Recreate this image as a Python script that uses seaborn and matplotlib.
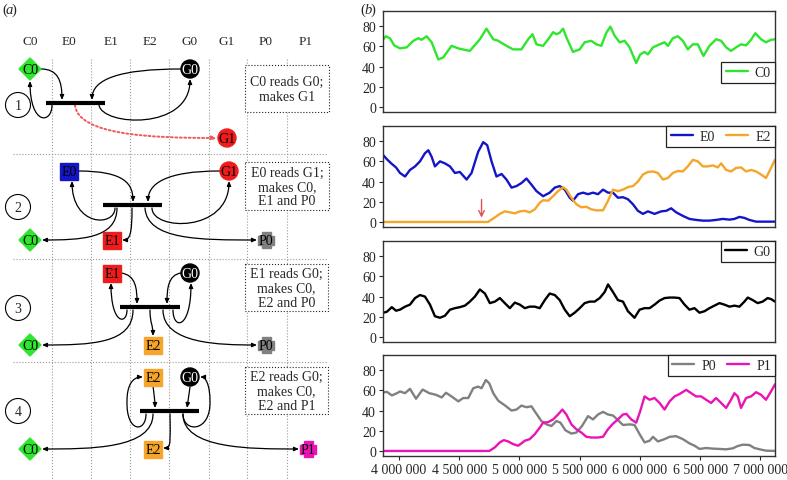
import matplotlib
matplotlib.use("Agg")
import numpy as np
import pandas as pd
import matplotlib.pyplot as plt
import seaborn as sns
from matplotlib.patches import Rectangle, Circle, Polygon, FancyArrowPatch
from matplotlib.path import Path
from matplotlib.ticker import FuncFormatter

# --- Data (b): species counts over time, (time in thousands, count) ---
C0 = [(3870, 67), (3890, 70), (3925, 68), (3960, 61), (4008, 58), (4064, 59), (4119, 65.5), (4160, 68),
      (4188, 66.5), (4229, 70), (4271, 64), (4326, 47), (4367, 49), (4436, 60.5), (4492, 58), (4547, 56.5),
      (4588, 55.5), (4671, 67), (4726, 77.5), (4782, 67), (4823, 65.5), (4892, 60.5), (4947, 57), (5016, 57),
      (5072, 67), (5108, 72), (5141, 62), (5196, 60.5), (5238, 67), (5279, 74), (5306, 72), (5334, 73.5),
      (5362, 77.5), (5389, 69), (5444, 54.5), (5500, 57), (5541, 64), (5596, 65.5), (5638, 62), (5679, 60.5),
      (5721, 73.5), (5754, 79.5), (5790, 70.5), (5831, 64), (5873, 65.5), (5914, 59), (5969, 43.5), (6002, 52),
      (6038, 54.5), (6066, 52), (6108, 59), (6163, 62), (6204, 64), (6232, 60.5), (6273, 68), (6315, 70),
      (6356, 65.5), (6397, 57), (6439, 62), (6480, 62), (6527, 50.5), (6577, 60.5), (6632, 67), (6674, 65.5),
      (6715, 59), (6756, 55.5), (6798, 59), (6839, 62), (6881, 61), (6922, 66.5), (6958, 73), (7005, 67),
      (7046, 64), (7088, 66.5), (7121, 67)]

E0 = [(3870, 66), (3900, 62), (3935, 58), (3975, 54), (4008, 48.5), (4050, 45), (4091, 51.5), (4133, 55),
      (4174, 60), (4215, 68), (4243, 71), (4271, 64.5), (4298, 55), (4340, 60), (4381, 58), (4423, 55),
      (4464, 48.5), (4505, 49.5), (4561, 42), (4602, 48.5), (4657, 69.5), (4699, 79), (4732, 76), (4768, 60),
      (4809, 45), (4851, 47.5), (4892, 42), (4934, 34), (4975, 35.5), (5016, 38.5), (5058, 43), (5099, 37),
      (5141, 30.5), (5196, 25.5), (5251, 29), (5293, 34), (5334, 35.5), (5376, 32), (5417, 24), (5444, 21),
      (5486, 27.5), (5527, 29), (5569, 27.5), (5610, 29), (5652, 27.5), (5693, 32), (5735, 29), (5776, 29),
      (5817, 24), (5859, 24.5), (5900, 22.5), (5942, 17.5), (5983, 11), (6025, 8), (6066, 10.5), (6121, 8),
      (6177, 10.5), (6218, 11), (6259, 13.5), (6301, 9.5), (6356, 6), (6411, 3), (6466, 2), (6522, 1.3),
      (6577, 1.3), (6632, 2), (6687, 3), (6743, 2.3), (6784, 3), (6826, 5), (6867, 4), (6908, 2),
      (6964, 0.3), (7019, 0.3), (7121, 0.3)]

E2 = [(3867, 0), (4740, 0), (4754, 1.3), (4796, 4.5), (4837, 8), (4878, 10.5), (4920, 9.5), (4961, 8.5),
      (5003, 10.5), (5044, 11), (5085, 9.5), (5127, 12.5), (5168, 19), (5196, 21.5), (5238, 21), (5279, 25.5),
      (5320, 30.5), (5362, 34.5), (5389, 32), (5431, 24), (5472, 17.5), (5514, 14.5), (5555, 15), (5596, 12.5),
      (5638, 11.5), (5693, 11.5), (5735, 21), (5776, 32), (5817, 30.5), (5859, 32), (5900, 34.5), (5942, 35.5),
      (5983, 40), (6025, 47), (6066, 49.5), (6108, 50), (6149, 48.5), (6190, 42), (6232, 43.5), (6273, 48.5),
      (6315, 50.5), (6356, 50), (6397, 55), (6439, 61.5), (6480, 60), (6522, 55), (6563, 55), (6605, 56),
      (6646, 54), (6674, 58), (6715, 51.5), (6756, 50), (6798, 53.5), (6839, 54), (6881, 50), (6922, 51.5),
      (6964, 50), (7005, 47), (7046, 43.5), (7088, 53.5), (7121, 61.5)]

G0 = [(3870, 24), (3900, 25), (3940, 29.5), (3975, 26), (4008, 27), (4050, 30), (4091, 32), (4133, 38.5),
      (4174, 41.5), (4215, 40), (4257, 32), (4298, 20.5), (4340, 19), (4381, 21), (4423, 27), (4464, 28.5),
      (4505, 29.5), (4547, 31), (4588, 35), (4630, 40), (4671, 47), (4713, 43), (4754, 33.5), (4796, 35),
      (4837, 38.5), (4878, 33.5), (4920, 28.5), (4961, 34), (5003, 32), (5044, 28.5), (5085, 30), (5127, 30),
      (5168, 28.5), (5210, 36.5), (5251, 43), (5293, 41.5), (5334, 36.5), (5376, 27), (5417, 20.5), (5458, 24),
      (5500, 28.5), (5541, 33.5), (5583, 35), (5624, 35), (5666, 38.5), (5707, 44.5), (5735, 52), (5776, 44.5),
      (5817, 36.5), (5859, 35), (5900, 25.5), (5955, 19), (5997, 27), (6038, 28.5), (6080, 28.5), (6121, 32),
      (6163, 36), (6204, 38.5), (6246, 39), (6287, 39), (6328, 38.5), (6370, 32), (6411, 27), (6453, 28.5),
      (6494, 24), (6536, 25.5), (6577, 28.5), (6618, 31), (6660, 33.5), (6701, 32), (6743, 30), (6784, 31),
      (6826, 30), (6867, 35), (6895, 39), (6936, 36.5), (6977, 33.5), (7019, 35), (7060, 38.5), (7088, 37.5),
      (7121, 35)]

P0 = [(3870, 58), (3900, 58.5), (3940, 55), (3980, 57), (4008, 58.9), (4050, 57.2), (4091, 61.5), (4141, 51.7),
      (4196, 60.8), (4251, 57.2), (4307, 55.6), (4354, 53), (4390, 57.6), (4436, 54), (4492, 49.1), (4533, 52.4),
      (4575, 52.4), (4616, 62.1), (4657, 63.7), (4685, 62.1), (4721, 70.2), (4749, 67), (4782, 57.2), (4823, 49.8),
      (4878, 45.2), (4934, 40), (4975, 41), (5016, 44.9), (5058, 43.3), (5099, 44.2), (5141, 36.7), (5182, 29.6),
      (5224, 26.3), (5265, 24.7), (5306, 29.6), (5340, 28), (5381, 20.5), (5431, 17.2), (5472, 18.2), (5519, 24.7),
      (5569, 34.5), (5610, 31.2), (5652, 36.1), (5693, 38.7), (5735, 36.1), (5776, 35.1), (5817, 30.6), (5859, 25.7),
      (5914, 26.3), (5955, 25.7), (5997, 16.6), (6038, 8.5), (6080, 10.1), (6108, 14), (6149, 9.4), (6204, 11.7),
      (6246, 14), (6301, 14.6), (6356, 11.7), (6411, 7.5), (6453, 5.2), (6494, 2), (6549, 2.9), (6605, 2.3),
      (6660, 2), (6715, 1.6), (6771, 2.6), (6812, 4.9), (6853, 6.2), (6908, 5.9), (6950, 2.9), (7005, 1.3),
      (7046, 0.3), (7121, 0)]

P1 = [(3867, 0), (4748, 0), (4754, 0.3), (4796, 3.6), (4837, 8.5), (4870, 10.7), (4906, 9.4), (4947, 6.8),
      (4989, 5.2), (5016, 7.5), (5044, 10.1), (5085, 11.7), (5127, 16.6), (5168, 23.1), (5196, 28), (5238, 28.6),
      (5279, 31.2), (5320, 36.1), (5356, 41), (5389, 36.1), (5431, 26.3), (5472, 21.5), (5514, 18.2), (5555, 14),
      (5596, 13.3), (5652, 13.3), (5693, 14), (5735, 21.5), (5776, 27), (5817, 31.2), (5859, 36.1), (5887, 36.7),
      (5928, 31.2), (5969, 28), (6002, 39.3), (6038, 54), (6080, 50.7), (6121, 52.4), (6163, 47.5), (6204, 41),
      (6246, 49.1), (6287, 54), (6328, 56.3), (6384, 60.5), (6425, 57.2), (6466, 54), (6508, 54), (6549, 50.7),
      (6591, 47.5), (6632, 52.4), (6674, 47.5), (6715, 42.6), (6756, 50.7), (6784, 57.2), (6812, 54), (6839, 42.6),
      (6881, 52.4), (6922, 54), (6964, 58.2), (7005, 55.6), (7046, 50.7), (7088, 58.9), (7121, 66)]

ARROW_TIME = 4685   # thousands, red arrow in E0/E2 panel
ARROW_FROM, ARROW_TO = 25, 1.5

PANELS = [[("C0", C0)], [("E0", E0), ("E2", E2)], [("G0", G0)], [("P0", P0), ("P1", P1)]]
COLORS = {"C0": "#2ee62e", "E0": "#1515c8", "E1": "#ee1c1c", "E2": "#f5a52a",
          "G0": "#000000", "G1": "#ee1c1c", "P0": "#808080", "P1": "#ea14b4"}

# --- Diagram (a) layout ---
COLUMNS = ["C0", "E0", "E1", "E2", "G0", "G1", "P0", "P1"]
COLUMN_X = [30, 69, 111, 150, 190, 227, 266, 306]
GRID_X = [52, 91, 130, 169, 209, 247, 287]
ROW_Y = [106, 208, 309, 412]
ROW_SEP_Y = [155, 260, 363]
RULES = ["C0 reads G0;\nmakes G1",
         "E0 reads G1;\nmakes C0,\nE1 and P0",
         "E1 reads G0;\nmakes C0,\nE2 and P0",
         "E2 reads G0;\nmakes C0,\nE2 and P1"]
RULE_BOX = [(245, 66, 84, 47), (245, 163, 84, 48), (245, 265, 83, 47), (245, 368, 83, 47)]
BARS = [(46, 105, 104), (103, 162, 206), (120, 180, 308), (140, 199, 412)]
NODES = [
    [("C0", 30, 70), ("G0", 190, 70), ("G1", 227, 139)],
    [("E0", 69, 172), ("G1", 229, 172), ("C0", 30, 241), ("E1", 112, 241), ("P0", 266, 241)],
    [("E1", 112, 274), ("G0", 190, 274), ("C0", 30, 346), ("E2", 153, 346), ("P0", 266, 346)],
    [("E2", 153, 378), ("G0", 190, 378), ("C0", 30, 450), ("E2", 153, 450), ("P1", 308, 450)],
]
ARROWS = [
    [(41, 70), (58, 70), (62, 82), (62, 101)],
    [(52, 106), (52, 125), (30, 127), (30, 82)],
    [(181, 70), (120, 70), (92, 80), (92, 101)],
    [(99, 106), (102, 127), (190, 132), (190, 80)],
    [(78, 172), (125, 172), (133, 185), (133, 203)],
    [(115, 209), (115, 228), (72, 228), (72, 182)],
    [(220, 172), (165, 172), (148, 185), (148, 203)],
    [(152, 209), (152, 232), (229, 234), (229, 182)],
    [(117, 209), (117, 240), (80, 241), (42, 241)],
    [(132, 209), (132, 235), (130, 241), (122, 241)],
    [(145, 209), (147, 241), (200, 241), (257, 241)],
    [(121, 274), (136, 276), (137, 290), (137, 305)],
    [(127, 311), (127, 326), (111, 326), (111, 284)],
    [(181, 274), (168, 276), (167, 290), (167, 305)],
    [(173, 311), (173, 331), (191, 331), (191, 284)],
    [(133, 311), (133, 345), (90, 346), (42, 346)],
    [(150, 311), (150, 325), (153, 325), (153, 337)],
    [(163, 311), (163, 345), (220, 346), (257, 346)],
    [(153, 387), (154, 395), (155, 402), (155, 409)],
    [(146, 415), (146, 434), (126, 434), (127, 402), (127, 387), (132, 378), (143, 378)],
    [(190, 388), (189, 395), (188, 402), (187, 409)],
    [(183, 415), (183, 434), (211, 434), (210, 402), (210, 387), (206, 378), (200, 378)],
    [(153, 415), (153, 450), (90, 450), (42, 450)],
    [(170, 415), (170, 440), (172, 449), (163, 449)],
    [(183, 415), (183, 450), (250, 450), (299, 450)],
]
DOTTED_ARROW = [(75, 106), (78, 136), (150, 139), (217, 139)]

sns.set_style("ticks")
plt.rcParams['font.family'] = ['Liberation Serif', 'DejaVu Serif']

fig = plt.figure(figsize=(7.87, 4.81), dpi=100)
W, H = 787, 481


def bezier(ax, pts, color="black", ls="-", lw=0.9):
    codes = [Path.MOVETO] + [Path.CURVE4] * (len(pts) - 1)
    arr = FancyArrowPatch(path=Path(pts, codes), arrowstyle="-|>,head_length=2.8,head_width=1.2",
                          mutation_scale=1, color=color, lw=lw, linestyle=ls, zorder=3)
    ax.add_patch(arr)


def node(ax, name, x, y):
    col = COLORS[name]
    kind = name[0]
    if kind == "C":
        shp = Polygon([(x - 11, y), (x, y - 11), (x + 11, y), (x, y + 11)], closed=True, fc=col, ec=col)
    elif kind == "E":
        shp = Rectangle((x - 9, y - 8.5), 18, 17, fc=col, ec=col)
    elif kind == "G":
        shp = Circle((x, y), 9, fc=col, ec=col)
    else:
        a, b = 4.5, 8
        shp = Polygon([(x - a, y - b), (x + a, y - b), (x + a, y - a), (x + b, y - a), (x + b, y + a),
                       (x + a, y + a), (x + a, y + b), (x - a, y + b), (x - a, y + a), (x - b, y + a),
                       (x - b, y - a), (x - a, y - a)], closed=True, fc=col, ec=col)
    shp.set_zorder(5)
    ax.add_patch(shp)
    tc = "white" if name == "G0" else "black"
    ax.text(x, y + 0.5, name, ha="center", va="center", fontsize=10, color=tc, zorder=6)


# ---------------- panel (a) ----------------
axd = fig.add_axes([0, 0, 383 / W, 1])
axd.set_xlim(0, 383)
axd.set_ylim(H, 0)
axd.axis("off")

axd.text(2, 10, "(", fontsize=10.5, va="center")
axd.text(6, 10, "a", fontsize=10.5, va="center", style="italic")
axd.text(12, 10, ")", fontsize=10.5, va="center")
axd.text(360, 10, "(", fontsize=10.5, va="center")
axd.text(364, 10, "b", fontsize=10.5, va="center", style="italic")
axd.text(370.5, 10, ")", fontsize=10.5, va="center")

for name, cx in zip(COLUMNS, COLUMN_X):
    axd.text(cx, 42, name, ha="center", va="center", fontsize=9.5)
for gx in GRID_X:
    axd.plot([gx, gx], [60, H], color="#9a9a9a", lw=0.8, ls=":", zorder=1)
for sy in ROW_SEP_Y:
    axd.plot([13, 328], [sy, sy], color="#9a9a9a", lw=0.8, ls=":", zorder=1)

for i, ry in enumerate(ROW_Y):
    axd.add_patch(Circle((18, ry), 12.5, fc="white", ec="black", lw=0.8))
    axd.text(18, ry + 0.5, str(i + 1), ha="center", va="center", fontsize=10)
    bx, by, bw, bh = RULE_BOX[i]
    axd.add_patch(Rectangle((bx, by), bw, bh, fc="white", ec="#222222", lw=0.8, ls=":"))
    axd.text(bx + bw / 2, by + bh / 2 + 0.5, RULES[i], ha="center", va="center",
             fontsize=10, linespacing=1.15)

for pts in ARROWS:
    bezier(axd, pts)
bezier(axd, DOTTED_ARROW, color="#f05a5a", ls=(0, (1, 1.3)), lw=1.4)

for x0, x1, y in BARS:
    axd.plot([x0, x1], [y, y], color="black", lw=3, solid_capstyle="butt", zorder=4)

for row in NODES:
    for name, x, y in row:
        node(axd, name, x, y)

# ---------------- panel (b) ----------------
tops = [12, 127, 242, 356]
ph = 101
fmt = FuncFormatter(lambda v, p: f"{int(round(v)):,}".replace(",", " "))
for k, (series, top) in enumerate(zip(PANELS, tops)):
    ax = fig.add_axes([383 / W, 1 - (top + ph) / H, 392 / W, ph / H])
    for name, pairs in series:
        df = pd.DataFrame(pairs, columns=["t", "n"])
        df["t"] = df["t"] * 1000
        sns.lineplot(data=df, x="t", y="n", ax=ax, color=COLORS[name], lw=1.7,
                     label=name, estimator=None, sort=False)
    ax.set_xlim(3867000, 7121000)
    ax.set_ylim(-5, 95)
    ax.set_yticks([0, 20, 40, 60, 80])
    ax.set_xlabel("")
    ax.set_ylabel("")
    ax.tick_params(axis="y", labelsize=10, length=3, width=0.8, pad=2)
    ax.set_xticks([4000000, 4500000, 5000000, 5500000, 6000000, 6500000, 7000000])
    if k < 3:
        ax.tick_params(axis="x", bottom=False, labelbottom=False)
    else:
        ax.xaxis.set_major_formatter(fmt)
        ax.tick_params(axis="x", labelsize=10, length=3, width=0.8, pad=2)
    for sp in ax.spines.values():
        sp.set_color("#333333")
        sp.set_linewidth(1.0)
    if k == 0:
        anchor, loc = (1.0, 0.495), "upper right"
    else:
        anchor, loc = (1.0, 1.0), "upper right"
    leg = ax.legend(loc=loc, bbox_to_anchor=anchor, borderaxespad=0, ncol=len(series),
                    fancybox=False, framealpha=1, edgecolor="#222222", fontsize=10,
                    handlelength=1.6, handletextpad=0.5, columnspacing=0.8, borderpad=0.3)
    leg.get_frame().set_linewidth(0.9)
    if k == 1:
        ax.annotate("", xy=(ARROW_TIME * 1000, ARROW_TO), xytext=(ARROW_TIME * 1000, ARROW_FROM),
                    arrowprops=dict(arrowstyle="->", color="#e05050", lw=1.0))

fig.savefig("out.png", dpi=100)
